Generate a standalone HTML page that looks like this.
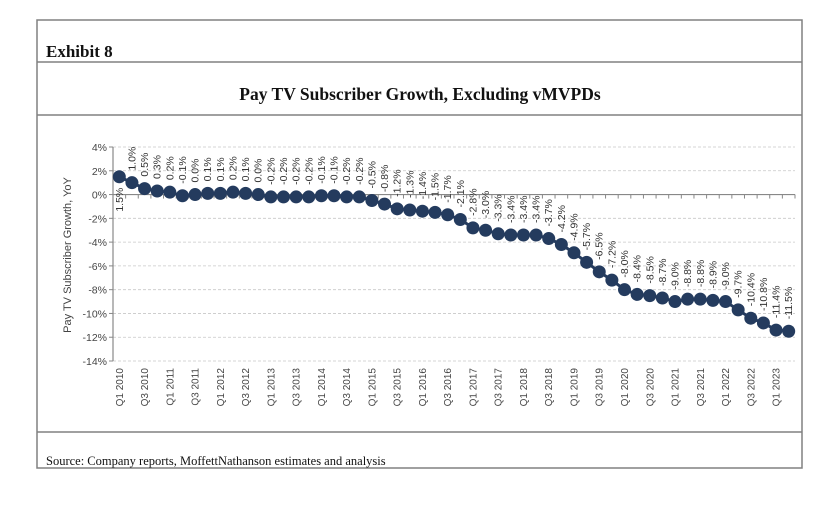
<!DOCTYPE html>
<html><head><meta charset="utf-8"><style>
body{margin:0;background:#fff;}
svg{display:block;}
</style></head><body>
<svg id="chart" width="828" height="518" xmlns="http://www.w3.org/2000/svg">
<rect x="37" y="20" width="765" height="448" fill="none" stroke="#808080" stroke-width="1.5"/>
<line x1="37" y1="62" x2="802" y2="62" stroke="#808080" stroke-width="1.5"/>
<line x1="37" y1="115" x2="802" y2="115" stroke="#808080" stroke-width="1.5"/>
<line x1="37" y1="432" x2="802" y2="432" stroke="#808080" stroke-width="1.5"/>
<text x="46" y="57" font-family="Liberation Serif, serif" font-weight="bold" font-size="17" fill="#111">Exhibit 8</text>
<text x="420" y="100" text-anchor="middle" font-family="Liberation Serif, serif" font-weight="bold" font-size="17.5" fill="#111">Pay TV Subscriber Growth, Excluding vMVPDs</text>
<text x="46" y="465" font-family="Liberation Serif, serif" font-size="12.5" fill="#111">Source: Company reports, MoffettNathanson estimates and analysis</text>
<text transform="translate(71,255) rotate(-90)" text-anchor="middle" font-family="Liberation Sans, sans-serif" font-size="11" fill="#444">Pay TV Subscriber Growth, YoY</text>
<g id="plot"></g>
</svg>
<script>
const values = [1.5,1.0,0.5,0.3,0.2,-0.1,0.0,0.1,0.1,0.2,0.1,0.0,-0.2,-0.2,-0.2,-0.2,-0.1,-0.1,-0.2,-0.2,-0.5,-0.8,-1.2,-1.3,-1.4,-1.5,-1.7,-2.1,-2.8,-3.0,-3.3,-3.4,-3.4,-3.4,-3.7,-4.2,-4.9,-5.7,-6.5,-7.2,-8.0,-8.4,-8.5,-8.7,-9.0,-8.8,-8.8,-8.9,-9.0,-9.7,-10.4,-10.8,-11.4,-11.5];
const startYear = 2010;
const yTicks = [4,2,0,-2,-4,-6,-8,-10,-12,-14];
const categories = values.map((v,i)=>'Q'+(i%4+1)+' '+(startYear+Math.floor(i/4)));

const NS='http://www.w3.org/2000/svg';
const g=document.getElementById('plot');
const X0=113, X1=795, Y4=147, Ymin=361;
const band=(X1-X0)/values.length;
const x=i=>X0+band*(i+0.5);
const y=v=>Y4+(4-v)*(Ymin-Y4)/18;
function mk(tag,attrs,parent){const e=document.createElementNS(NS,tag);for(const k in attrs)e.setAttribute(k,attrs[k]);(parent||g).appendChild(e);return e;}

yTicks.forEach(t=>{
  if(t!==0){const l=mk('line',{x1:X0,x2:X1,y1:y(t),y2:y(t),stroke:'#c8c8c8','stroke-dasharray':'3,2','stroke-width':0.8});
  
  }
  const tk=mk('line',{x1:X0-4,x2:X0,y1:y(t),y2:y(t),stroke:'#888'});
  
  
  const tx=mk('text',{x:X0-6,y:y(t)+4,'text-anchor':'end','font-family':'Liberation Sans, sans-serif','font-size':10.5,fill:'#444'});
  tx.textContent=t+'%';
  
  
});
const ya=mk('line',{x1:X0,x2:X0,y1:Y4,y2:Ymin,stroke:'#888','stroke-width':1.2});


const xa=mk('line',{x1:X0,x2:X1,y1:y(0),y2:y(0),stroke:'#888','stroke-width':1.2});


for(let i=0;i<=values.length;i++){
  const tk=mk('line',{x1:X0+band*i,x2:X0+band*i,y1:y(0),y2:y(0)+4,stroke:'#888'});
  
  
}
categories.forEach((c,i)=>{
  if(i%2) return;
  const t=mk('text',{transform:`translate(${x(i)+3.5},${Ymin+7}) rotate(-90)`,'text-anchor':'end','font-family':'Liberation Sans, sans-serif','font-size':10,fill:'#444'});
  t.textContent=c;
  
  
});
const pl=mk('polyline',{points:values.map((v,i)=>x(i)+','+y(v)).join(' '),fill:'none',stroke:'#243b5e','stroke-width':3});


values.forEach((v,i)=>{
  const c=mk('circle',{cx:x(i),cy:y(v),r:6.5,fill:'#243b5e'});
  
  
  const lbl=v.toFixed(1)+'%';
  let tx,ty,anchor;
  if(i===0){tx=x(i)+3.5;ty=y(v)+11;anchor='end';}
  else{tx=x(i)+3.5;ty=y(v)-12;anchor='start';}
  const t=mk('text',{transform:`translate(${tx},${ty}) rotate(-90)`,'text-anchor':anchor,'font-family':'Liberation Sans, sans-serif','font-size':10.5,fill:'#333'});
  t.textContent=lbl;
  
  
});
</script>
</body></html>
